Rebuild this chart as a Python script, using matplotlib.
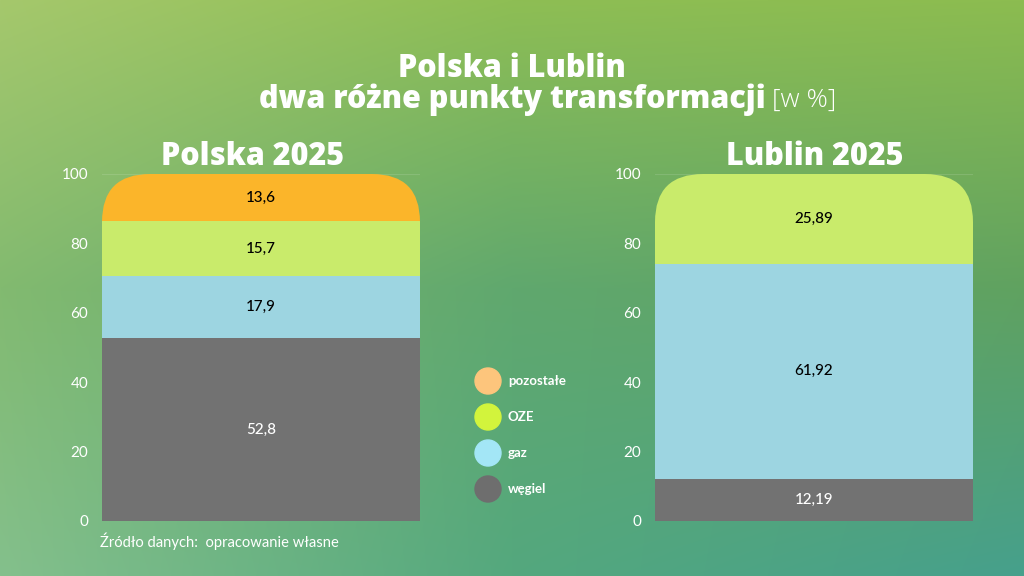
import numpy as np
import matplotlib
matplotlib.use("Agg")
import matplotlib.pyplot as plt
from matplotlib.patches import FancyBboxPatch, Ellipse

# data
categories = ["węgiel", "gaz", "OZE", "pozostałe"]
polska_2025 = [52.8, 17.9, 15.7, 13.6]
lublin_categories = ["węgiel", "gaz", "OZE"]
lublin_2025 = [12.19, 61.92, 25.89]
yticks = [0, 20, 40, 60, 80, 100]
legend_order = ["pozostałe", "OZE", "gaz", "węgiel"]

bar_colors = {"węgiel": "#727272", "gaz": "#9dd5e1", "OZE": "#c9eb6b", "pozostałe": "#fbb52a"}
legend_colors = {"węgiel": "#6e6e6e", "gaz": "#a3e6f6", "OZE": "#d2f43c", "pozostałe": "#fdc57c"}
label_colors = {"węgiel": "white", "gaz": "black", "OZE": "black", "pozostałe": "black"}

W, H = 1024, 576
fig = plt.figure(figsize=(W / 100, H / 100), dpi=100)

# background gradient
grid = np.array([
    [[165, 200, 108], [142, 190, 84], [140, 188, 80]],
    [[130, 186, 112], [96, 168, 110], [96, 162, 96]],
    [[132, 192, 140], [84, 168, 126], [70, 160, 140]],
], dtype=float) / 255
xs = np.linspace(0, 1, W)
ys = np.linspace(0, 1, H)
rows = np.zeros((3, W, 3))
for r in range(3):
    for c in range(3):
        rows[r, :, c] = np.interp(xs, [0, 0.5, 1], grid[r, :, c])
img = np.zeros((H, W, 3))
for c in range(3):
    for i in range(W):
        img[:, i, c] = np.interp(ys, [0, 0.5, 1], rows[:, i, c])
bg = fig.add_axes([0, 0, 1, 1])
bg.imshow(img, aspect="auto", extent=[0, 1, 0, 1])
bg.axis("off")


def px(x, y):
    return x / W, 1 - y / H


def draw_stack(ax_rect, cats, vals, title, title_x):
    ax = fig.add_axes(ax_rect)
    ax.patch.set_alpha(0)
    ax.set_xlim(-0.5, 0.5)
    ax.set_ylim(0, 100)
    w_px = ax_rect[2] * W
    h_px = ax_rect[3] * H
    r_px = 48
    aspect = (w_px / 1.0) / (h_px / 100)
    clip = FancyBboxPatch((-0.5, -30), 1, 130,
                          boxstyle=f"round,pad=0,rounding_size={r_px / w_px}",
                          mutation_aspect=aspect, transform=ax.transData)
    bottom = 0
    for cat, v in zip(cats, vals):
        bars = ax.bar(0, v, width=1.0, bottom=bottom, color=bar_colors[cat],
                      linewidth=0, zorder=2)
        for b in bars:
            b.set_clip_path(clip)
        ax.bar_label(bars, labels=[f"{v}".replace(".", ",")], label_type="center",
                     color=label_colors[cat], fontsize=11, family="Lato", fontweight="medium")
        bottom += v
    ax.set_yticks(yticks)
    ax.set_xticks([])
    ax.grid(axis="y", color="white", alpha=0.12, linewidth=0.8, zorder=0)
    ax.set_axisbelow(True)
    for s in ax.spines.values():
        s.set_visible(False)
    ax.tick_params(axis="y", length=0, pad=10, labelcolor="white", labelsize=11)
    for t in ax.get_yticklabels():
        t.set_family("Lato")
    fig.text(*px(title_x, 157), title, ha="center", va="center", color="white",
             fontsize=22, fontweight="heavy", family="Open Sans")
    return ax


ax_bottom = (H - 521) / H
ax_height = (521 - 174) / H
draw_stack([102 / W, ax_bottom, 318 / W, ax_height], categories, polska_2025, "Polska 2025", 253)
draw_stack([655 / W, ax_bottom, 318 / W, ax_height], lublin_categories, lublin_2025, "Lublin 2025", 815)

# titles
fig.text(*px(512, 69), "Polska i Lublin", ha="center", va="center", color="white",
         fontsize=22, fontweight="heavy", family="Open Sans")
fig.text(*px(766, 100), "dwa różne punkty transformacji", ha="right", va="center",
         color="white", fontsize=22, fontweight="heavy", family="Open Sans")
fig.text(*px(772, 100), "[w %]", ha="left", va="center", color="white",
         fontsize=19, fontweight="light", family="Open Sans")

# legend
for i, cat in enumerate(legend_order):
    cy = 381 + i * 36
    fig.patches.append(Ellipse(px(488, cy), 26 / W, 26 / H, transform=fig.transFigure,
                               color=legend_colors[cat], zorder=5))
    fig.text(*px(508, cy), cat, ha="left", va="center", color="white",
             fontsize=9.5, fontweight="bold", family="Lato")

fig.text(*px(100, 541), "Źródło danych:  opracowanie własne", ha="left", va="center",
         color="white", fontsize=10.6, family="Lato")

fig.savefig("out.png", dpi=100)
